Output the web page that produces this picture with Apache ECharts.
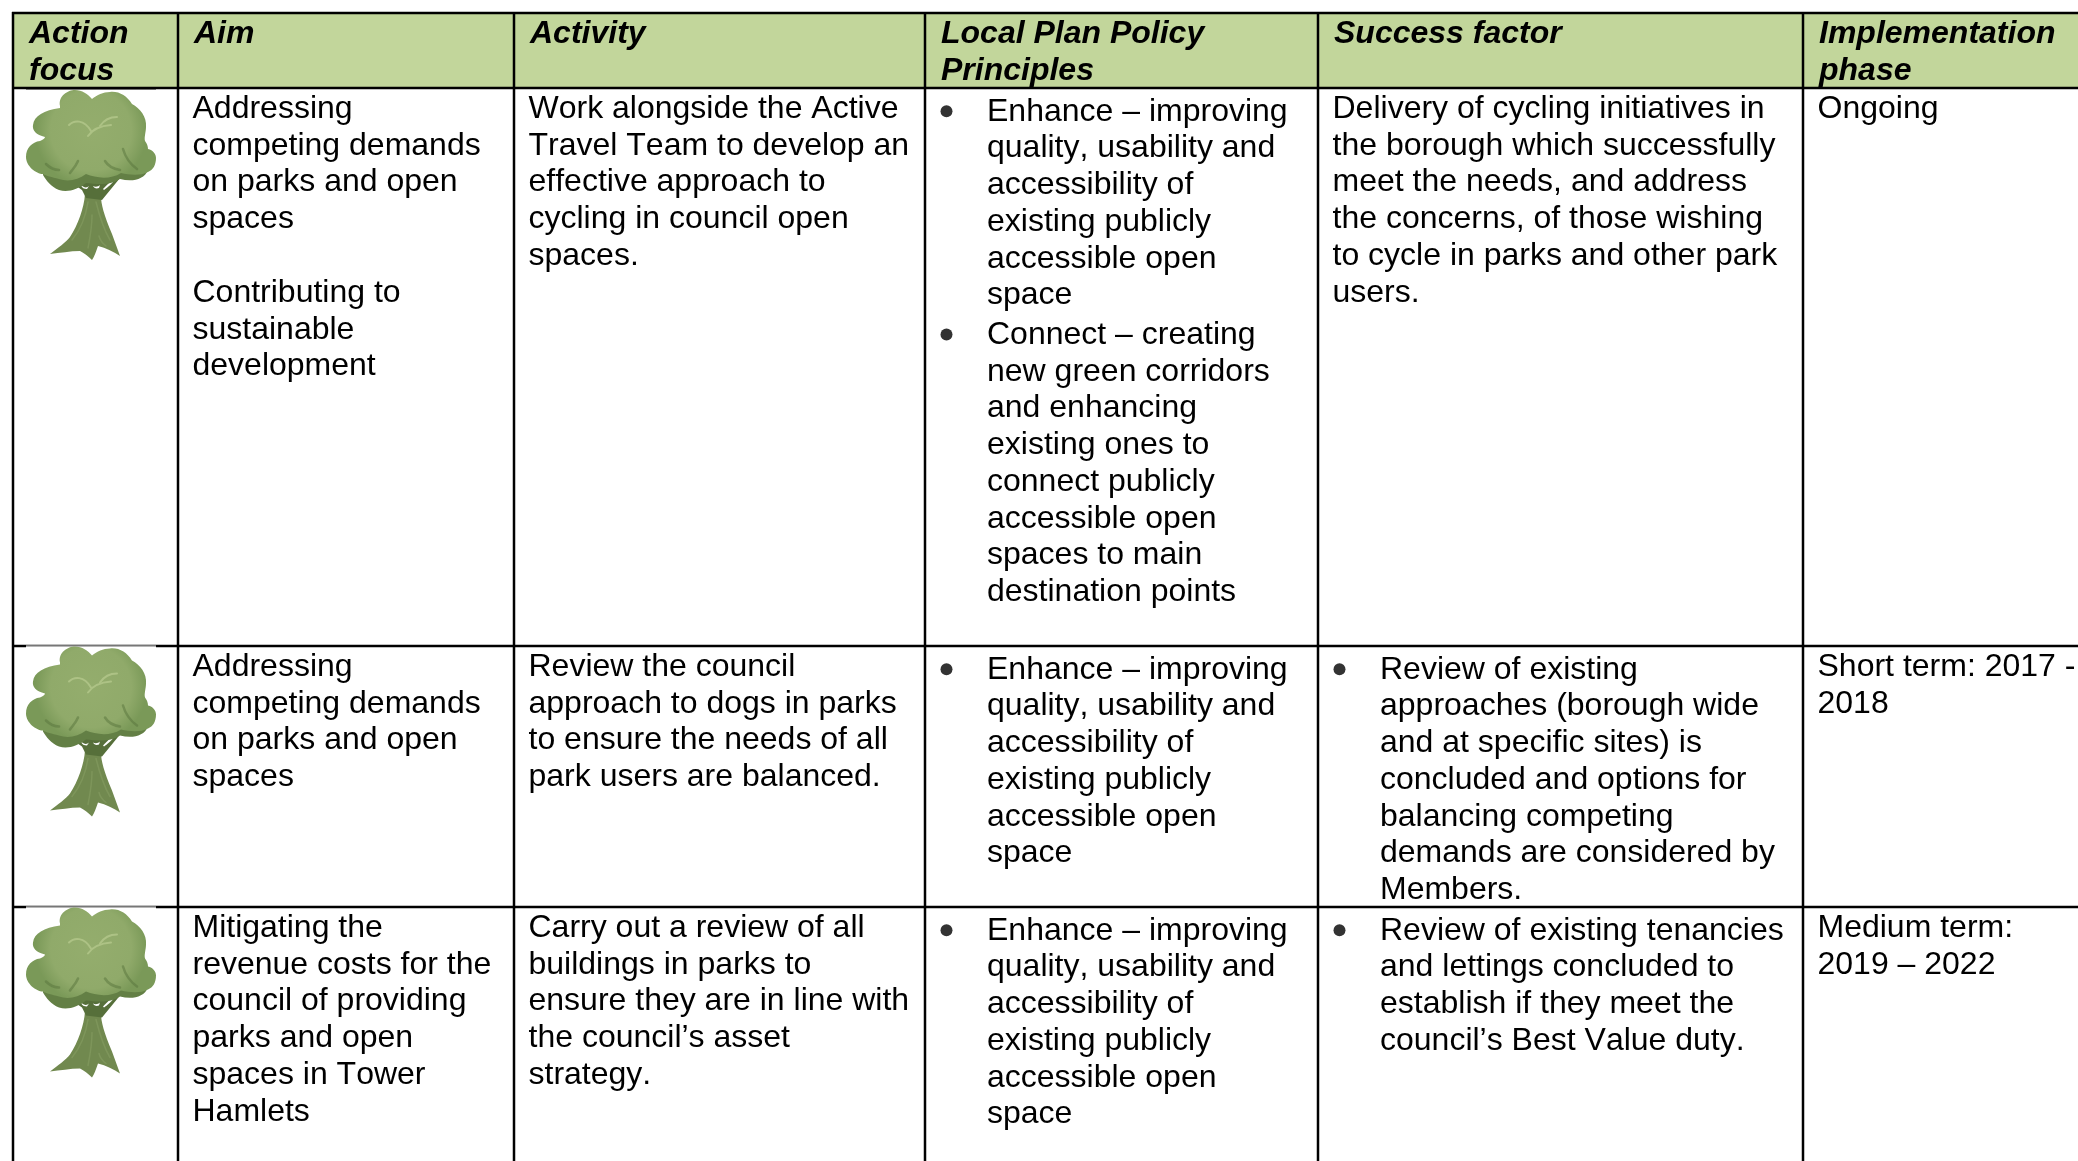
<!DOCTYPE html>
<html>
<head>
<meta charset="utf-8">
<title>Action plan table</title>
<script src="https://cdn.jsdelivr.net/npm/echarts@6/dist/echarts.min.js"></script>
<style>
html, body { margin: 0; padding: 0; background: #fff; }
#main { width: 2078px; height: 1161px; }
</style>
</head>
<body>
<div id="main"></div>
<script>
// table text, a leading '* ' marks a bulleted line
var headers = [
    ['Action', 'focus'],
    ['Aim'],
    ['Activity'],
    ['Local Plan Policy', 'Principles'],
    ['Success factor'],
    ['Implementation', 'phase']
];
var treeRows = [0, 1, 2];
var aimCells = [
    ['Addressing', 'competing demands', 'on parks and open', 'spaces', '', 'Contributing to', 'sustainable', 'development'],
    ['Addressing', 'competing demands', 'on parks and open', 'spaces'],
    ['Mitigating the', 'revenue costs for the', 'council of providing', 'parks and open', 'spaces in Tower', 'Hamlets']
];
var activityCells = [
    ['Work alongside the Active', 'Travel Team to develop an', 'effective approach to', 'cycling in council open', 'spaces.'],
    ['Review the council', 'approach to dogs in parks', 'to ensure the needs of all', 'park users are balanced.'],
    ['Carry out a review of all', 'buildings in parks to', 'ensure they are in line with', 'the council\u2019s asset', 'strategy.']
];
var policyCells = [
    ['* Enhance \u2013 improving', 'quality, usability and', 'accessibility of', 'existing publicly', 'accessible open', 'space',
        '* Connect \u2013 creating', 'new green corridors', 'and enhancing', 'existing ones to', 'connect publicly', 'accessible open', 'spaces to main', 'destination points'],
    ['* Enhance \u2013 improving', 'quality, usability and', 'accessibility of', 'existing publicly', 'accessible open', 'space'],
    ['* Enhance \u2013 improving', 'quality, usability and', 'accessibility of', 'existing publicly', 'accessible open', 'space']
];
var successCells = [
    ['Delivery of cycling initiatives in', 'the borough which successfully', 'meet the needs, and address', 'the concerns, of those wishing', 'to cycle in parks and other park', 'users.'],
    ['* Review of existing', 'approaches (borough wide', 'and at specific sites) is', 'concluded and options for', 'balancing competing', 'demands are considered by', 'Members.'],
    ['* Review of existing tenancies', 'and lettings concluded to', 'establish if they meet the', 'council\u2019s Best Value duty.']
];
var phaseCells = [
    ['Ongoing'],
    ['Short term: 2017 -', '2018'],
    ['Medium term:', '2019 \u2013 2022']
];

// layout of the page
var W = 2078, H = 1161;
var colEdges = [13, 178, 514, 925, 1318, 1803];
var rowEdges = [13, 88, 646, 907];
var treeTops = [90, 646.5, 907.5];
var LINE_H = 36.77;
var BULLET_EXTRA = 2.65;
var FONT_SIZE = 32;
var FONT_FAMILY = '"Liberation Sans", Arial, sans-serif';
var MIDDLE_SHIFT = 8.4;

var CANOPY_BACK = 'M17 80C30 84 90 78 122 80C118 90 106 92 94 89C84 96 70 94 60 93C52 99 42 103 33 100C25 97 20 90 17 85Z';
var CANOPY = 'M34 16C32 6 42 0 49 0C56 0 62 4 66 9C71 5 77 2 84 2C93 1 101 6 106 14C114 18 121 27 120 37C120 42 118 47 119 51' +
    'C122 55 122 58 122 59C127 60 130 64 130 68C130 75 127 80 122 82C114 86 104 85 95 83C84 90 70 88 60 84C52 90 42 92 33 89' +
    'C26 87 20 86 17 84C10 84 0 76 0 67C0 58 6 52 14 51C17 50 19 48 19 47C10 45 6 40 7 35C8 26 18 20 34 18Z';
var BRANCHES = 'M46 93L94 88L76 110L60 108L56 100Z';
var TRUNK = 'M59 104L75 106C75 114 78 125 86 144L94 166C88 162 80 158 72 156C70 162 68 167 66 170C62 166 58 163 54 161' +
    'C44 161 34 163 24 164C32 158 40 152 44 147C52 135 58 118 59 104Z';
var GAPS = ['M55 95C58 98 61 98 63 96L61 99C58 99 56 98 55 95Z',
    'M67 96C69 97 72 97 74 95L73 98C70 99 68 98 67 96Z',
    'M77 99C80 96 84 92 87 89L89 89C86 94 82 97 78 100Z'];
var CREASES = ['M44 83C47 79 50 76 52 71', 'M79 71C82 76 88 79 94 80', 'M97 59C99 66 104 74 111 79',
    'M20 74C24 78 28 80 33 80'];
var HIGHLIGHTS = ['M43 35C48 30 58 29 65 41', 'M62 46C66 40 72 36 85 35', 'M74 36C78 30 84 27 91 27'];
var TRUNK_LINES = ['M62 112C60 125 56 138 46 150', 'M70 112C74 128 78 140 84 150', 'M66 125C66 135 64 148 62 158',
    'M73 146C74 150 76 153 80 156'];

var textItems = [];
var bulletPoints = [];

function addHeader(lines, col) {
    lines.forEach(function(line, i) {
        textItems.push([colEdges[col] + 16, rowEdges[0] + 29.5 + i * LINE_H - MIDDLE_SHIFT, line, 1]);
    });
}

function addCell(lines, row, col) {
    var indented = lines.some(function(l) { return l.indexOf('* ') === 0; });
    var x = colEdges[col] + (indented ? 62 : 14.5);
    var y = rowEdges[row + 1] + 29.5 - MIDDLE_SHIFT;
    lines.forEach(function(line) {
        var text = line;
        if (line.indexOf('* ') === 0) {
            y += BULLET_EXTRA;
            text = line.substring(2);
            bulletPoints.push([colEdges[col] + 21.5, y - 0.5]);
        }
        if (text) {
            textItems.push([x, y, text, 0]);
        }
        y += LINE_H;
    });
}

headers.forEach(addHeader);
[aimCells, activityCells, policyCells, successCells, phaseCells].forEach(function(cells, c) {
    cells.forEach(function(lines, r) {
        addCell(lines, r, c + 1);
    });
});

var renderFrame = function(params, api) {
    var topLeft = api.coord([0, rowEdges[0]]);
    var headerEnd = api.coord([W, rowEdges[1]]);
    var children = [{
        type: 'rect',
        shape: { x: colEdges[0], y: topLeft[1], width: W - colEdges[0], height: headerEnd[1] - topLeft[1] },
        style: { fill: '#c2d69b' }
    }];
    rowEdges.forEach(function(v) {
        var a = api.coord([colEdges[0] - 1, v]);
        var b = api.coord([W, v]);
        children.push({ type: 'line', shape: { x1: a[0], y1: a[1], x2: b[0], y2: b[1] }, style: { stroke: '#000', lineWidth: 2.5 } });
    });
    colEdges.forEach(function(v) {
        var a = api.coord([v, rowEdges[0] - 1]);
        var b = api.coord([v, H]);
        children.push({ type: 'line', shape: { x1: a[0], y1: a[1], x2: b[0], y2: b[1] }, style: { stroke: '#000', lineWidth: 2.5 } });
    });
    return { type: 'group', children: children };
};

function strokePaths(list, color, width) {
    return list.map(function(d) {
        return { type: 'path', shape: { pathData: d }, style: { fill: 'none', stroke: color, lineWidth: width, lineCap: 'round' } };
    });
}

var renderTree = function(params, api) {
    var pos = api.coord([26, treeTops[api.value(0)]]);
    var canopyFill = new echarts.graphic.RadialGradient(0.5, 0.45, 0.62, [
        { offset: 0, color: '#94ad6d' },
        { offset: 0.72, color: '#90aa6a' },
        { offset: 1, color: '#7a9958' }
    ]);
    var children = [
        { type: 'rect', shape: { x: 0, y: -1, width: 130, height: 4 }, style: { fill: '#fff' } },
        { type: 'rect', shape: { x: 0, y: -1, width: 130, height: 1 }, style: { fill: '#6e6e6e' } },
        { type: 'path', shape: { pathData: TRUNK }, style: { fill: '#71894f' } },
        { type: 'path', shape: { pathData: BRANCHES }, style: { fill: '#566f3a' } }
    ];
    GAPS.forEach(function(d) {
        children.push({ type: 'path', shape: { pathData: d }, style: { fill: '#fff' } });
    });
    children.push({ type: 'path', shape: { pathData: CANOPY_BACK }, style: { fill: '#637f45' } });
    children.push({ type: 'path', shape: { pathData: CANOPY }, style: { fill: canopyFill } });
    children = children.concat(strokePaths(CREASES, 'rgba(88,115,60,0.5)', 2.5));
    children = children.concat(strokePaths(HIGHLIGHTS, '#adc285', 2));
    children = children.concat(strokePaths(TRUNK_LINES, 'rgba(150,172,112,0.35)', 1.5));
    return { type: 'group', x: pos[0], y: pos[1], children: children };
};

var renderText = function(params, api) {
    var pos = api.coord([api.value(0), api.value(1)]);
    var bold = api.value(3) === 1;
    return {
        type: 'text',
        style: {
            x: pos[0],
            y: pos[1],
            text: textItems[params.dataIndex][2],
            fill: '#000',
            font: (bold ? 'italic bold ' : '') + FONT_SIZE + 'px ' + FONT_FAMILY,
            textAlign: 'left',
            textVerticalAlign: 'middle'
        }
    };
};

// the reference text is set without kerning
var getContext2d = HTMLCanvasElement.prototype.getContext;
HTMLCanvasElement.prototype.getContext = function() {
    var ctx = getContext2d.apply(this, arguments);
    if (ctx && 'fontKerning' in ctx) {
        ctx.fontKerning = 'none';
    }
    return ctx;
};

var myChart = echarts.init(document.getElementById('main'), null, { renderer: 'canvas' });
myChart.setOption({
    animation: false,
    backgroundColor: '#fff',
    grid: { left: 0, right: 0, top: 0, bottom: 0 },
    xAxis: { type: 'value', min: 0, max: W, show: false },
    yAxis: { type: 'value', min: 0, max: H, inverse: true, show: false },
    series: [{
        type: 'custom',
        silent: true,
        z: 1,
        clip: false,
        renderItem: renderFrame,
        data: [[0, 0]]
    }, {
        type: 'custom',
        silent: true,
        z: 2,
        clip: false,
        renderItem: renderTree,
        data: treeRows.map(function(r) { return [r]; }),
        encode: { x: 0 }
    }, {
        type: 'scatter',
        silent: true,
        z: 3,
        symbol: 'circle',
        symbolSize: 12,
        itemStyle: { color: '#000' },
        data: bulletPoints
    }, {
        type: 'custom',
        silent: true,
        z: 4,
        clip: false,
        renderItem: renderText,
        data: textItems.map(function(t) { return [t[0], t[1], 0, t[3]]; })
    }]
});
</script>
</body>
</html>
